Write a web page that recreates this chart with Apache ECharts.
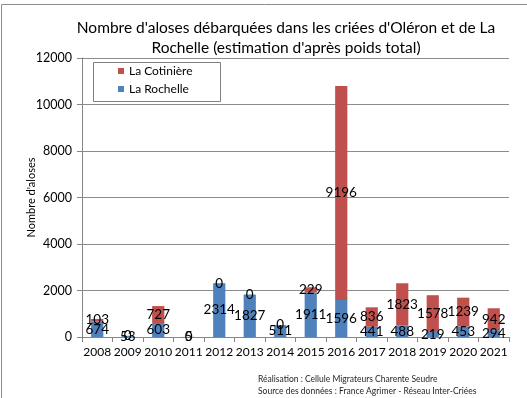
<!DOCTYPE html>
<html>
<head>
<meta charset="utf-8">
<script src="https://cdn.jsdelivr.net/npm/echarts@6/dist/echarts.min.js"></script>
<style>
html,body{margin:0;padding:0;background:#fff;}
#chart{width:527px;height:398px;}
</style>
</head>
<body>
<div id="chart"></div>
<script>
const years = ['2008','2009','2010','2011','2012','2013','2014','2015','2016','2017','2018','2019','2020','2021'];
const laRochelle = [674, 53, 603, 5, 2314, 1827, 511, 1911, 1596, 441, 488, 219, 453, 294];
const laCotiniere = [103, 0, 727, 0, 0, 0, 0, 229, 9196, 836, 1823, 1578, 1239, 942];
const yTicks = [0, 2000, 4000, 6000, 8000, 10000, 12000];

const FONT = 'Lato';
const chart = echarts.init(document.getElementById('chart'), null, {renderer: 'canvas'});
const labelStyle = {show: true, position: 'inside', color: '#000', fontFamily: FONT, fontSize: 13.5};

chart.setOption({
  backgroundColor: '#fff',
  animation: false,
  title: {
    text: "Nombre d'aloses débarquées dans les criées d'Oléron et de La\nRochelle (estimation d'après poids total)",
    left: 281, top: 13, textAlign: 'center',
    textStyle: {fontFamily: FONT, fontSize: 15.5, fontWeight: 'normal', color: '#000', lineHeight: 20}
  },
  legend: {
    data: ['La Cotinière', 'La Rochelle'],
    orient: 'vertical', left: 118, top: 64, padding: 0,
    itemWidth: 6, itemHeight: 6, itemGap: 4,
    icon: 'rect',
    textStyle: {fontFamily: FONT, fontSize: 12, color: '#000', lineHeight: 14}
  },
  grid: {left: 82, right: 18, top: 58, bottom: 61, containLabel: false},
  xAxis: {
    type: 'category', data: years,
    axisLine: {lineStyle: {color: '#868686'}},
    axisTick: {show: true, length: 5, lineStyle: {color: '#868686'}},
    axisLabel: {fontFamily: FONT, fontSize: 12, color: '#000', margin: 9, interval: 0}
  },
  yAxis: {
    type: 'value', min: yTicks[0], max: yTicks[yTicks.length - 1], interval: 2000,
    name: "Nombre d'aloses", nameLocation: 'middle', nameRotate: 90, nameGap: 45,
    nameMoveOverlap: false,
    nameTextStyle: {fontFamily: FONT, fontSize: 11, color: '#000'},
    axisLine: {show: true, lineStyle: {color: '#868686'}},
    axisTick: {show: true, length: 5, lineStyle: {color: '#868686'}},
    axisLabel: {fontFamily: FONT, fontSize: 12.5, color: '#000', margin: 10,
      formatter: v => String(v)},
    splitLine: {lineStyle: {color: '#8c8c8c', width: 1}}
  },
  series: [
    {name: 'La Rochelle', type: 'bar', stack: 'total', data: laRochelle, barWidth: '40%',
     itemStyle: {color: '#4F81BD'}, label: labelStyle},
    {name: 'La Cotinière', type: 'bar', stack: 'total', data: laCotiniere, barWidth: '40%',
     itemStyle: {color: '#C0504D'}, label: labelStyle}
  ],
  graphic: [
    {type: 'rect', z: -10, shape: {x: 1.5, y: 4.5, width: 540, height: 410},
     style: {fill: 'none', stroke: '#8c8c8c', lineWidth: 1}},
    {type: 'rect', z: 0, shape: {x: 93.5, y: 62.5, width: 127, height: 39},
     style: {fill: '#fff', stroke: '#7f7f7f', lineWidth: 1}},
    {type: 'text', left: 258, top: 375, z: 10,
     style: {text: 'Réalisation : Cellule Migrateurs Charente Seudre', font: '8.5px Lato', fill: '#262626'}},
    {type: 'text', left: 258, top: 387, z: 10,
     style: {text: 'Source des données : France Agrimer - Réseau Inter-Criées', font: '8.5px Lato', fill: '#262626'}}
  ]
});
</script>
</body>
</html>
